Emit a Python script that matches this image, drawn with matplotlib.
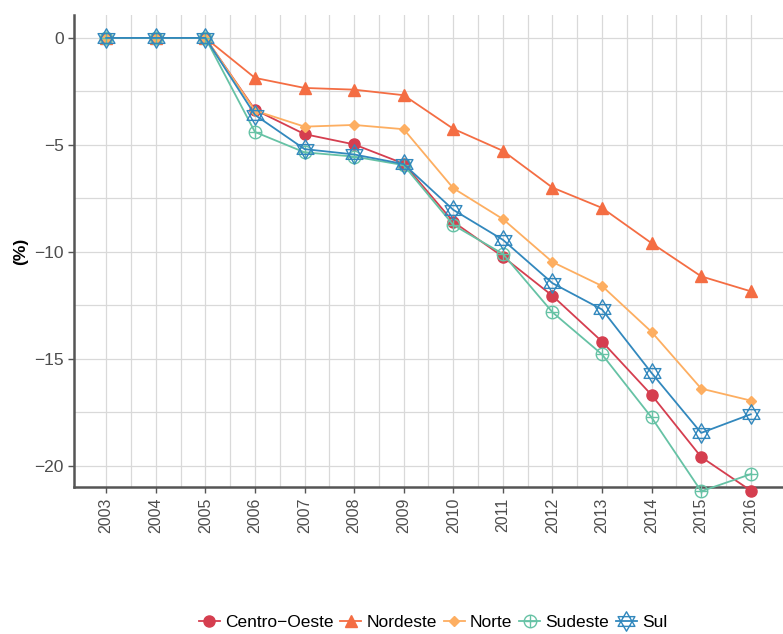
import matplotlib
matplotlib.use("Agg")
import matplotlib.pyplot as plt
import numpy as np
from matplotlib.path import Path
from matplotlib.lines import Line2D

plt.rcParams['font.family'] = ['Liberation Sans', 'DejaVu Sans']

years = list(range(2003, 2017))
centro_oeste = [0, 0, 0, -3.36, -4.5, -4.98, -5.88, -8.6, -10.23, -12.06, -14.2, -16.7, -19.6, -21.17]
nordeste     = [0, 0, 0, -1.87, -2.34, -2.42, -2.68, -4.25, -5.28, -7.0, -7.95, -9.6, -11.15, -11.85]
norte        = [0, 0, 0, -3.4, -4.15, -4.07, -4.27, -7.03, -8.47, -10.48, -11.6, -13.75, -16.4, -16.96]
sudeste      = [0, 0, 0, -4.4, -5.35, -5.55, -5.95, -8.75, -10.1, -12.83, -14.8, -17.75, -21.2, -20.4]
sul          = [0, 0, 0, -3.6, -5.2, -5.45, -5.9, -8.04, -9.44, -11.47, -12.7, -15.67, -18.47, -17.6]

names = ["Centro\u2212Oeste", "Nordeste", "Norte", "Sudeste", "Sul"]
colors = ["#D53E4F", "#F46D43", "#FDAE61", "#66C2A5", "#3288BD"]

# custom markers
tri_up = [(0, 1), (-0.866, -0.5), (0.866, -0.5), (0, 1)]
tri_dn = [(0, -1), (-0.866, 0.5), (0.866, 0.5), (0, -1)]
p1 = Path(tri_up, [Path.MOVETO, Path.LINETO, Path.LINETO, Path.CLOSEPOLY])
p2 = Path(tri_dn, [Path.MOVETO, Path.LINETO, Path.LINETO, Path.CLOSEPOLY])
hexagram = Path.make_compound_path(p1, p2)
circ = Path.unit_circle()
plus = Path([(-1, 0), (1, 0), (0, -1), (0, 1)], [Path.MOVETO, Path.LINETO, Path.MOVETO, Path.LINETO])
circplus = Path.make_compound_path(circ, plus)

styles = [
    dict(marker="o", ms=8, mfc=colors[0], mec=colors[0]),
    dict(marker="^", ms=9, mfc=colors[1], mec=colors[1]),
    dict(marker="D", ms=5, mfc=colors[2], mec=colors[2]),
    dict(marker=circplus, ms=9, mfc="none", mec=colors[3], mew=1.0),
    dict(marker=hexagram, ms=14, mfc="none", mec=colors[4], mew=1.0),
]
series = [centro_oeste, nordeste, norte, sudeste, sul]

fig = plt.figure(figsize=(7.83, 6.34), dpi=100)
ax = fig.add_axes([0.0945, 0.2319, 0.9055, 0.7444])

handles = []
for vals, name, col, st in zip(series, names, colors, styles):
    ax.plot(years, vals, color=col, lw=1.3, zorder=3, clip_on=False, **st)
    handles.append(Line2D([0], [0], color=col, lw=1.3, label=name, **st))

ax.set_xlim(2002.35, 2016.65)
ax.set_ylim(-21.0, 1.07)
ax.set_xticks(years)
ax.set_xticks([y + 0.5 for y in years[:-1]], minor=True)
ax.set_yticks([0, -5, -10, -15, -20])
ax.set_yticks([-2.5, -7.5, -12.5, -17.5], minor=True)
ax.set_xticklabels([str(y) for y in years], rotation=90, fontsize=11.5, color="#4d4d4d")
ax.set_yticklabels(["0", "\u22125", "\u221210", "\u221215", "\u221220"], fontsize=12.5, color="#4d4d4d")
ax.grid(True, which="both", color="#d9d9d9", lw=0.9, zorder=0)
ax.set_axisbelow(True)
for s in ["top", "right"]:
    ax.spines[s].set_visible(False)
for s in ["left", "bottom"]:
    ax.spines[s].set_color("#555555")
    ax.spines[s].set_linewidth(1.8)
    ax.spines[s].set_zorder(2.5)
ax.tick_params(which="major", length=4, color="#555555", width=1)
ax.tick_params(which="minor", length=0)
ax.set_ylabel("(%)", fontsize=12.5, fontweight="bold", labelpad=4)

fig.legend(handles=handles, loc="center", bbox_to_anchor=(0.553, 0.018), ncol=5,
           frameon=False, fontsize=12.5, handlelength=1.2, handletextpad=0.3,
           columnspacing=0.4)

fig.savefig("out.png", dpi=100)
